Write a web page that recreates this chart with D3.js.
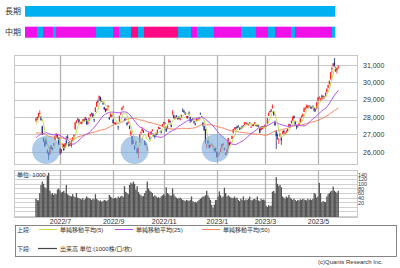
<!DOCTYPE html>
<html>
<head>
<meta charset="utf-8">
<script src="https://cdn.jsdelivr.net/npm/d3@7"></script>
<style>
body{margin:0;background:#fff}
svg{display:block}
text{font-family:"Liberation Sans","Noto Sans CJK JP",sans-serif;fill:#333}
</style>
</head>
<body>
<div id="chart"></div>
<script>
// month ticks (index of first trading day of the month)
var monthLabels = ["2022/7","2022/9","2022/11","2023/1","2023/3","2023/5"];
var monthIdx = [19, 61, 101, 143, 181, 223];
var priceTicks = [26000, 27000, 28000, 29000, 30000, 31000];
var volTicks = [20, 40, 60, 80, 100, 120, 140];

// closes before the first drawn day, only used for the moving averages
var histClose = [28040,28110,28149,27943,28252,28027,27821,
  27666,27736,27787,27350,26888,26985,26821,26335,26843,27172,27093,26799,26985,27217,27553,27105,26590,26700,26386,26847,
  26818,27003,26319,26167,26213,25748,26427,26547,26659,26911,26402,26739,27001,26748,26677,26604,26781,27369,27279,
  27457,27413,27761];

// daily candles 2022/6/6 .. 2023/5/26
var open = [27800,27990,28030,28200,28010,27460,26790,26590,26720,26030,25930,25860,26300,26210,26360,26680,26860,26950,26790,
  26150,25920,26270,26400,26230,26620,26880,26540,26450,26330,26700,26890,27290,27680,27830,27850,27650,27600,27750,27870,
  27820,27900,27600,27800,28050,28160,28200,27870,28300,28600,28900,29000,29150,28900,28800,28560,28450,28380,28570,27950,28000,28100,
  27840,27640,27650,27620,27450,27730,28190,28400,28580,27880,27850,27670,27640,27480,27010,26900,26500,26320,26570,26170,
  25900,26530,27100,27200,27180,26600,26420,26200,26880,26800,27000,27240,27020,26900,27050,27000,27340,27350,27150,27450,
  27700,27640,27350,27330,27700,27780,27550,28200,28100,27940,28100,27870,27980,27850,27980,28390,28340,28250,28000,28050,
  28250,27980,27780,27900,27750,27600,27800,27830,27930,28200,28020,27670,27480,27300,26370,26620,26400,26280,26450,26300,26170,26200,
  26000,25780,25870,26000,26240,26460,26200,25900,25930,26200,26510,26490,26750,27100,27300,27400,27450,27470,27400,
  27360,27460,27500,27570,27650,27640,27580,27700,27400,27480,27580,27620,27550,27470,27530,27330,27250,27300,27430,
  27450,27480,27600,28080,28330,28320,28530,28300,27700,27200,26950,26700,26900,26800,27100,27200,27050,27150,27280,27450,27550,27650,
  27800,28050,27750,27500,27450,27550,27700,28000,28050,28300,28500,28550,28600,28620,28600,28500,28620,28500,28350,28500,
  28950,29100,28950,29000,29200,29100,29200,29450,29700,29900,30200,30750,30950,31150,30800,30700,30850];
var high = [27960,28020,28240,28390,28060,27500,26820,26650,26800,26160,26000,26300,26390,26260,26510,26890,27060,27000,26810,
  26240,26170,26480,26460,26500,26900,26980,26560,26500,26680,26850,27000,27700,27810,27960,27900,27760,27720,27880,27900,
  28000,27920,27800,27960,28180,28250,28230,27900,28570,28890,29000,29230,29180,29010,28860,28590,28500,28520,28700,28020,28200,28140,
  27880,27720,27700,27680,27500,28070,28240,28560,28660,27910,27960,27700,27760,27520,27250,26920,26700,26390,26620,26250,
  26230,27000,27180,27400,27250,26660,26520,26300,27100,26900,27200,27320,27060,26960,27110,27280,27450,27400,27250,27600,
  27720,27700,27400,27570,27880,27800,27580,28400,28150,28030,28100,27980,28050,27960,28140,28500,28420,28280,28070,28070,
  28330,28000,27880,27950,27780,27680,27950,27890,28000,28260,28080,27700,27500,27330,26460,26690,26420,26440,26480,26390,26200,26230,
  26000,25870,26000,26220,26450,26490,26260,25950,26160,26800,26550,26600,26930,27320,27400,27420,27500,27530,27410,
  27400,27500,27560,27720,27700,27660,27620,27720,27480,27620,27600,27730,27580,27560,27560,27350,27470,27480,27480,
  27560,27550,27950,28260,28350,28450,28730,28350,27800,27250,27050,26800,27080,26850,27200,27250,27150,27250,27320,27620,27600,27800,
  28050,28100,27780,27550,27550,27680,27950,28100,28200,28550,28600,28720,28680,28700,28650,28620,28680,28520,28500,28880,
  29150,29200,29100,29280,29250,29200,29420,29650,29860,30100,30600,30900,31100,31400,30900,30850,31000];
var low = [27710,27820,27960,28150,27790,26980,26560,26260,26430,25880,25520,25850,26120,26030,26330,26640,26810,26760,26360,
  25820,25900,26240,26040,26200,26400,26700,26290,26330,26240,26600,26800,27290,27640,27770,27620,27600,27580,27640,27730,
  27760,27560,27530,27770,27990,28080,27960,27710,28280,28580,28800,28940,28890,28870,28690,28390,28280,28360,28530,27840,27980,28000,
  27630,27580,27560,27580,27260,27700,28100,28390,28520,27760,27800,27500,27620,27300,26900,26410,26440,26100,26400,25900,
  25620,26520,26990,27140,27080,26380,26300,26040,26840,26700,26990,27160,26870,26760,26930,26980,27290,27300,27050,27440,
  27580,27570,27140,27300,27650,27630,27400,28100,27900,27870,27920,27840,27870,27800,27950,28290,28240,28110,27930,27900,
  28150,27660,27720,27800,27610,27520,27750,27780,27880,28140,27950,27450,27200,26450,26190,26440,26190,26260,26370,26200,25950,26000,
  25660,25690,25830,25980,26200,26350,26070,25790,25850,26180,26360,26420,26720,27050,27280,27260,27340,27380,27250,
  27280,27340,27450,27510,27580,27540,27500,27600,27380,27470,27470,27600,27460,27420,27400,27060,27220,27290,27380,
  27400,27420,27580,28060,28240,28290,28480,28060,27480,26160,26700,26450,26850,26400,27000,27050,26950,27080,27170,27430,27450,27620,
  27760,27900,27550,27300,27380,27500,27680,27950,28000,28280,28420,28500,28500,28520,28480,28450,28530,28300,28300,28450,
  28900,29050,28900,28980,29050,29050,29150,29400,29650,29850,30150,30550,30900,30900,30600,30500,30750];
var close = [27915,27943,28234,28246,27824,26987,26629,26326,26431,25963,25771,26246,26149,26171,26491,26871,27049,26804,26393,
  25935,26153,26423,26107,26490,26517,26812,26336,26478,26643,26788,26961,27680,27803,27915,27699,27655,27715,27815,27801,
  27993,27594,27741,27932,28175,28249,27999,27819,28546,28871,28868,29222,28942,28930,28794,28452,28313,28479,28641,27878,28195,28091,
  27661,27650,27619,27626,27430,28065,28214,28542,28614,27818,27876,27567,27688,27313,27153,26431,26571,26173,26422,25937,
  26215,26992,27120,27311,27116,26401,26396,26237,27090,26775,27156,27257,27006,26890,26974,27250,27431,27345,27105,27587,
  27678,27663,27199,27527,27872,27716,27446,28263,27963,27990,28028,27930,27899,27944,28115,28383,28283,28162,28027,27968,
  28226,27777,27820,27885,27686,27574,27901,27842,27954,28156,28051,27527,27237,26568,26387,26507,26235,26405,26447,26340,26093,26094,
  25716,25820,25973,26175,26446,26449,26119,25822,26138,26791,26405,26553,26906,27299,27395,27362,27382,27433,27327,
  27346,27402,27509,27693,27685,27606,27584,27670,27427,27602,27501,27696,27513,27531,27473,27104,27453,27423,27445,
  27516,27498,27927,28237,28309,28444,28623,28143,27532,26900,26930,26700,27030,26650,27160,27120,27090,27180,27230,27600,27500,27780,
  28000,27950,27600,27420,27500,27640,27920,28060,28150,28500,28520,28660,28580,28650,28550,28580,28600,28380,28450,28850,
  29100,29150,29000,29240,29120,29130,29390,29630,29840,30090,30570,30810,31090,30960,30680,30800,30920];
var volume = [36,30,28,60,95,110,100,85,80,135, 148,70,55,60,52,58,55,75,80,70,
  62,65,70,60,95,55,50,48,45,55, 45,42,60,40,38,35,32,38,30,35,
  45,40,38,35,30,35,32,55,35,30, 25,28,22,25,30,28,25,30,52,45,
  40,35,38,40,35,45,40,45,48,42, 90,65,60,55,95,105,100,110,100,75,
  90,65,55,50,45,48,60,70,110,80, 70,65,60,45,50,45,40,42,38,45,
  50,55,48,85,60,55,50,48,80,55, 45,40,35,38,40,35,30,28,25,30,
  28,25,30,45,25,20,22,18,25,30, 35,40,45,45,50,70,50,40,30,8,
  -5,10,30,30,45,67,50,40,45,83, 60,45,50,45,40,40,37,45,37,40,
  30,25,35,30,45,28,32,30,35,45, 30,28,33,35,30,45,28,25,35,30,
  32,28,5,0,8,3,5,66,70,60, 129,100,90,95,85,45,40,35,45,40,
  52,40,35,30,35,30,25,30,28,33, 30,35,32,30,28,35,30,33,30,35,
  60,55,40,45,104,60,20,25,22,20, 45,55,60,67,70,88,70,65,60,70];

// trend strips at the top
var longState = ["up"];
var longLen = [310];
var midState = ["mag","up","mag","up","mag","up","mag","up","pink","up","pink","up","mag","up","mag","up","mag","up","mag","up","mag","up"];
var midLen = [12,6,10,3,40,17,6,12,7,6,34,13,6,17,27,15,12,7,16,4,37,3];

// marked bottoms
var bottomIdx = [8, 78, 142];
var bottomVal = [26100, 26100, 26200];

var W = 400, H = 268;
var svg = d3.select("#chart").append("svg").attr("width", W).attr("height", H);

var stateColor = {up: "#00b0f0", mag: "#f010e8", pink: "#ff0a84"};

// ---- top strips
svg.append("text").attr("x", 5).attr("y", 14).style("font-size", "8px").text("長期");
svg.append("text").attr("x", 5).attr("y", 35).style("font-size", "8px").text("中期");

var sx = d3.scaleLinear().domain([0, d3.sum(midLen)]).range([25, 335]);
function strip(states, lens, y0, h) {
  var acc = 0;
  var segs = states.map(function(s, i) { var d = {s: s, a: acc, b: acc + lens[i]}; acc += lens[i]; return d; });
  svg.append("g").selectAll("rect").data(segs).enter().append("rect")
    .attr("x", function(d) { return sx(d.a); })
    .attr("width", function(d) { return sx(d.b) - sx(d.a) + 0.3; })
    .attr("y", y0).attr("height", h)
    .attr("fill", function(d) { return stateColor[d.s]; });
}
strip(longState, longLen, 6, 10.7);
strip(midState, midLen, 26.7, 11);

// ---- price panel
var pL = 14, pR = 357, pT = 55, pB = 164;
var x = d3.scaleLinear().domain([19, 223]).range([60, 318]);
var y = d3.scaleLinear().domain([25295, 31573]).range([pB, pT]);

svg.append("rect").attr("x", pL + 0.5).attr("y", pT + 0.5).attr("width", pR - pL).attr("height", pB - pT)
  .attr("fill", "none").attr("stroke", "#c8c8c8");

var gp = svg.append("g");
gp.selectAll("line.h").data(priceTicks).enter().append("line").attr("class", "h")
  .attr("x1", pL).attr("x2", pR)
  .attr("y1", function(d) { return Math.round(y(d)) + 0.5; })
  .attr("y2", function(d) { return Math.round(y(d)) + 0.5; })
  .attr("stroke", "#c8c8c8");
gp.selectAll("line.v").data(monthIdx).enter().append("line").attr("class", "v")
  .attr("x1", function(d) { return Math.round(x(d)) + 0.5; })
  .attr("x2", function(d) { return Math.round(x(d)) + 0.5; })
  .attr("y1", pT).attr("y2", pB)
  .attr("stroke", "#b4b4b4").attr("stroke-width", 1.3);

var yAxis = d3.axisRight(y).tickValues(priceTicks).tickSize(0).tickPadding(0).tickFormat(d3.format(","));
svg.append("g").attr("transform", "translate(363,0)").call(yAxis)
  .call(function(g) { g.select(".domain").remove(); })
  .selectAll("text").style("font-size", "7px").attr("fill", "#333");

var idx = d3.range(close.length);
var candles = svg.append("g");
candles.selectAll("line").data(idx).enter().append("line")
  .attr("x1", function(i) { return x(i); }).attr("x2", function(i) { return x(i); })
  .attr("y1", function(i) { return y(high[i]); }).attr("y2", function(i) { return y(low[i]); })
  .attr("stroke", function(i) { return close[i] >= open[i] ? "#ff2020" : "#1c2c8c"; })
  .attr("stroke-width", 0.8);
candles.selectAll("rect").data(idx).enter().append("rect")
  .attr("x", function(i) { return x(i) - 0.6; }).attr("width", 1.2)
  .attr("y", function(i) { return y(Math.max(open[i], close[i])); })
  .attr("height", function(i) { return Math.max(0.6, Math.abs(y(open[i]) - y(close[i]))); })
  .attr("fill", function(i) { return close[i] >= open[i] ? "#ff2020" : "#1c2c8c"; });

var allClose = histClose.concat(close);
function movingAvg(n) {
  return idx.map(function(i) {
    var end = i + histClose.length;
    return d3.mean(allClose.slice(end - n + 1, end + 1));
  });
}
var line = d3.line().x(function(d, i) { return x(i); }).y(function(d) { return y(d); });
[[50, "#f4845a"], [25, "#b04cf0"], [5, "#c4dc4c"]].forEach(function(m) {
  svg.append("path").datum(movingAvg(m[0])).attr("d", line)
    .attr("fill", "none").attr("stroke", m[1]).attr("stroke-width", 1);
});

svg.append("g").selectAll("circle").data(bottomIdx).enter().append("circle")
  .attr("cx", function(d) { return x(d); })
  .attr("cy", function(d, i) { return y(bottomVal[i]); })
  .attr("r", 14)
  .attr("fill", "#7aa8dc").attr("fill-opacity", 0.6);

// ---- volume panel
var vT = 170, vB = 217;
var yv = d3.scaleLinear().domain([-44, 160]).range([vB, vT]);
svg.append("rect").attr("x", pL + 0.5).attr("y", vT + 0.5).attr("width", pR - pL).attr("height", vB - vT)
  .attr("fill", "none").attr("stroke", "#c8c8c8");
var gv = svg.append("g");
gv.selectAll("line.h").data(d3.range(-40, 160, 20)).enter().append("line").attr("class", "h")
  .attr("x1", pL).attr("x2", pR)
  .attr("y1", function(d) { return Math.round(yv(d)) + 0.5; })
  .attr("y2", function(d) { return Math.round(yv(d)) + 0.5; })
  .attr("stroke", "#d0d0d0");
gv.selectAll("line.v").data(monthIdx).enter().append("line").attr("class", "v")
  .attr("x1", function(d) { return Math.round(x(d)) + 0.5; })
  .attr("x2", function(d) { return Math.round(x(d)) + 0.5; })
  .attr("y1", vT).attr("y2", vB)
  .attr("stroke", "#b4b4b4").attr("stroke-width", 1.3);
svg.append("g").selectAll("rect").data(idx).enter().append("rect")
  .attr("x", function(i) { return x(i) - 0.65; }).attr("width", 1.3)
  .attr("y", function(i) { return yv(volume[i]); })
  .attr("height", function(i) { return vB - yv(volume[i]); })
  .attr("fill", "#555");
svg.append("text").attr("x", 17).attr("y", 177).style("font-size", "6px").text("単位: 1000");

var vAxis = d3.axisRight(yv).tickValues(volTicks).tickSize(0).tickPadding(0);
svg.append("g").attr("transform", "translate(358,0)").call(vAxis)
  .call(function(g) { g.select(".domain").remove(); })
  .selectAll("text").style("font-size", "5.5px").attr("fill", "#333");

var xAxis = d3.axisBottom(x).tickValues(monthIdx).tickSize(0).tickPadding(0)
  .tickFormat(function(d, i) { return monthLabels[i]; });
svg.append("g").attr("transform", "translate(0,219)").call(xAxis)
  .call(function(g) { g.select(".domain").remove(); })
  .selectAll("text").style("font-size", "7px").attr("fill", "#333");

// ---- legend
svg.append("rect").attr("x", 15.5).attr("y", 225.5).attr("width", 381).attr("height", 31)
  .attr("fill", "none").attr("stroke", "#666").attr("stroke-width", 0.8);
var legend1 = [["#c4dc4c", "単純移動平均(5)", 39], ["#b04cf0", "単純移動平均(25)", 115], ["#f4845a", "単純移動平均(50)", 202]];
svg.append("text").attr("x", 17).attr("y", 231.5).style("font-size", "6px").text("上段:");
legend1.forEach(function(l) {
  svg.append("line").attr("x1", l[2]).attr("x2", l[2] + 18).attr("y1", 229.5).attr("y2", 229.5)
    .attr("stroke", l[0]).attr("stroke-width", 1);
  svg.append("text").attr("x", l[2] + 21).attr("y", 231.5).style("font-size", "6px").text(l[1]);
});
svg.append("text").attr("x", 17).attr("y", 250.5).style("font-size", "6px").text("下段:");
svg.append("line").attr("x1", 38).attr("x2", 57).attr("y1", 248.5).attr("y2", 248.5)
  .attr("stroke", "#444").attr("stroke-width", 1.2);
svg.append("text").attr("x", 60).attr("y", 250.5).style("font-size", "6px").text("出来高 単位:(1000株/口/枚)");

svg.append("text").attr("x", 383).attr("y", 264).attr("text-anchor", "end")
  .style("font-size", "6px").attr("fill", "#555").text("(c)Quants Research Inc.");
</script>
</body>
</html>
